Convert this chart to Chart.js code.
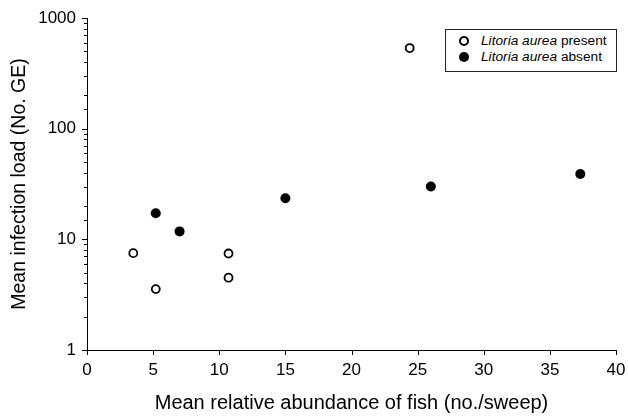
<!DOCTYPE html>
<html>
<head>
<meta charset="utf-8">
<script src="https://cdn.jsdelivr.net/npm/chart.js@4.4.1/dist/chart.umd.min.js"></script>
<style>
  html, body { margin: 0; padding: 0; background: #fff; }
  #wrap { position: relative; width: 628px; height: 416px; }
  #legend {
    position: absolute; left: 445px; top: 29px; width: 172px; height: 43px;
    border: 1px solid #222; box-sizing: border-box; background: #fff;
    font-family: "Liberation Sans", Arial, sans-serif; font-size: 13.7px; color: #000;
  }
  #legend .row { position: absolute; left: 35px; line-height: 16px; white-space: nowrap; }
  #legend .dot { position: absolute; left: -22px; top: 3px; width: 10px; height: 10px; border-radius: 50%; box-sizing: border-box; }
</style>
</head>
<body>
<div id="wrap">
  <canvas id="grafico" width="628" height="416"></canvas>
  <div id="legend">
    <div class="row" style="top:3px"><span class="dot" style="border:2px solid #000;background:#fff"></span><i>Litoria aurea</i> present</div>
    <div class="row" style="top:19px"><span class="dot" style="background:#000"></span><i>Litoria aurea</i> absent</div>
  </div>
</div>
<script>
// fish abundance (no./sweep) and mean infection load (No. GE)
const presentX = [3.5, 5.2, 10.7, 10.7, 24.4];
const presentY = [7.5, 3.55, 7.45, 4.5, 535];
const absentX = [5.2, 7.0, 15.0, 26.0, 37.3];
const absentY = [17.2, 11.8, 23.5, 30, 39];
const xTicks = [0, 5, 10, 15, 20, 25, 30, 35, 40];
const yLabels = [1, 10, 100, 1000];

const toPoints = (xs, ys) => xs.map((x, i) => ({ x: x, y: ys[i] }));
const font = 'Liberation Sans, Arial, sans-serif';

// outward tick marks, long on decades, short on the log minor ticks
const tickMarks = {
    id: 'tickMarks',
    afterDraw(chart) {
        const c = chart.ctx;
        const xs = chart.scales.x, ys = chart.scales.y;
        c.save();
        c.strokeStyle = '#000';
        c.lineWidth = 1;
        c.beginPath();
        xs.ticks.forEach(t => {
            const px = Math.round(xs.getPixelForValue(t.value)) + 0.5;
            c.moveTo(px, ys.bottom);
            c.lineTo(px, ys.bottom + 5);
        });
        ys.ticks.forEach(t => {
            const major = yLabels.includes(t.value);
            const py = Math.round(ys.getPixelForValue(t.value)) + 0.5;
            c.moveTo(xs.left - (major ? 5 : 3), py);
            c.lineTo(xs.left, py);
        });
        c.stroke();
        c.restore();
    }
};

const ctx = document.getElementById('grafico').getContext('2d');
new Chart(ctx, {
    type: 'scatter',
    data: {
        datasets: [{
            label: 'Litoria aurea present',
            data: toPoints(presentX, presentY),
            pointRadius: 4,
            pointBorderWidth: 1.8,
            borderColor: '#000',
            backgroundColor: '#fff'
        }, {
            label: 'Litoria aurea absent',
            data: toPoints(absentX, absentY),
            pointRadius: 5,
            pointBorderWidth: 0,
            borderColor: '#000',
            backgroundColor: '#000'
        }]
    },
    options: {
        responsive: false,
        animation: false,
        layout: { padding: { top: 18, right: 12, left: 0, bottom: 0 } },
        plugins: {
            legend: { display: false },
            tooltip: { enabled: false }
        },
        scales: {
            x: {
                type: 'linear',
                min: 0, max: 40,
                afterFit: s => { s.height = 66; s.paddingRight = 0; s.paddingLeft = 0; },
                afterBuildTicks: s => { s.ticks = xTicks.map(v => ({ value: v })); },
                grid: { drawOnChartArea: false, drawTicks: true, tickLength: 5, tickColor: 'rgba(0,0,0,0)' },
                border: { color: '#000', width: 1 },
                ticks: { color: '#000', font: { family: font, size: 17 }, padding: 5, maxRotation: 0 },
                title: { display: true, text: 'Mean relative abundance of fish (no./sweep)', color: '#000', font: { family: font, size: 20 }, padding: { top: 0, bottom: 1 } }
            },
            y: {
                type: 'logarithmic',
                min: 1, max: 1000,
                afterFit: s => { s.width = 87; s.paddingTop = 0; s.paddingBottom = 0; },
                grid: { drawOnChartArea: false, drawTicks: true, tickLength: 5, tickColor: 'rgba(0,0,0,0)' },
                border: { color: '#000', width: 1 },
                ticks: {
                    color: '#000', font: { family: font, size: 17 }, padding: 6, autoSkip: false,
                    callback: v => yLabels.includes(v) ? String(v) : ''
                },
                title: { display: true, text: 'Mean infection load (No. GE)', color: '#000', font: { family: font, size: 19.5 }, padding: { top: 8, bottom: 0 } }
            }
        }
    },
    plugins: [tickMarks]
});
</script>
</body>
</html>
